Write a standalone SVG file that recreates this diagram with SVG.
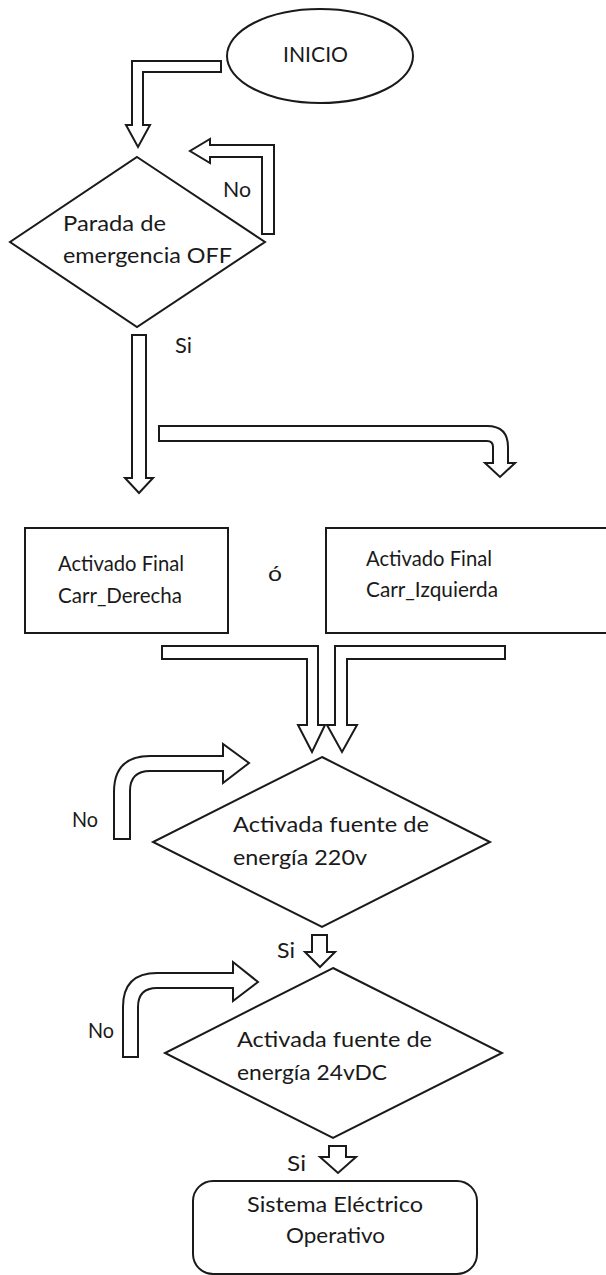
<svg xmlns="http://www.w3.org/2000/svg" width="606" height="1275" viewBox="0 0 606 1275">
  <style>
    .shape { fill: #ffffff; stroke: #1a1a1a; stroke-width: 2; stroke-linejoin: miter; }
    .arrow { fill: #ffffff; stroke: #1a1a1a; stroke-width: 2; stroke-linejoin: miter; }
    .label { font-family: Lato, "Open Sans", "Liberation Sans", sans-serif; font-size: 21px; fill: #1a1a1a; }
  </style>
  <rect width="606" height="1275" fill="#ffffff"/>

  <!-- block arrows -->
  <g id="connectors">
    <path class="arrow" d="M221,61 L132,61 L132,125 L126,125 L138,147 L150,125 L143,125 L143,72 L221,72 Z"/>
    <path class="arrow" d="M262,234 L262,157 L210,157 L210,163 L190,151 L210,139 L210,145 L274,145 L274,234 Z"/>
    <path class="arrow" d="M132,335 L146,335 L146,478 L153,478 L139,493 L125,478 L132,478 Z"/>
    <path class="arrow" d="M159,426 L487,426 Q508,426 508,447 L508,463 L515,463 L500,477 L485,463 L493,463 L493,447 Q493,441 487,441 L159,441 Z"/>
    <path class="arrow" d="M162,646 L318,646 L318,725 L325,725 L312,752 L298,725 L307,725 L307,659 L162,659 Z"/>
    <path class="arrow" d="M505,646 L335,646 L335,725 L327,725 L342,752 L357,725 L347,725 L347,659 L505,659 Z"/>
    <path class="arrow" d="M114,839 L114,792 Q114,756 150,756 L223,756 L223,744 L249,763 L223,783 L223,771 L150,771 Q130,771 130,791 L130,839 Z"/>
    <path class="arrow" d="M312,935 L327,935 L327,952 L335,952 L320,967 L305,952 L312,952 Z"/>
    <path class="arrow" d="M123,1057 L123,1007 Q123,973 157,973 L233,973 L233,962 L258,982 L233,1001 L233,988 L157,988 Q138,988 138,1007 L138,1057 Z"/>
    <path class="arrow" d="M329,1146 L346,1146 L346,1157 L356,1157 L338,1173 L320,1157 L329,1157 Z"/>
    <text class="label" x="223" y="197" textLength="28" lengthAdjust="spacingAndGlyphs">No</text>
    <text class="label" x="175" y="353" textLength="17" lengthAdjust="spacingAndGlyphs">Si</text>
    <text class="label" x="72" y="827" textLength="26" lengthAdjust="spacingAndGlyphs">No</text>
    <text class="label" x="277" y="958" textLength="18" lengthAdjust="spacingAndGlyphs">Si</text>
    <text class="label" x="88" y="1038" textLength="26" lengthAdjust="spacingAndGlyphs">No</text>
    <text class="label" x="287" y="1171" textLength="19" lengthAdjust="spacingAndGlyphs">Si</text>
  </g>

  <g id="inicio">
    <ellipse class="shape" cx="320" cy="56" rx="93" ry="47"/>
    <text class="label" x="283" y="62" textLength="65" lengthAdjust="spacingAndGlyphs">INICIO</text>
  </g>

  <g id="parada-emergencia">
    <polygon class="shape" points="137,157 265,242 137,327 10,242"/>
    <text class="label" x="63" y="231" textLength="103" lengthAdjust="spacingAndGlyphs">Parada de</text>
    <text class="label" x="63" y="263" textLength="169" lengthAdjust="spacingAndGlyphs">emergencia OFF</text>
  </g>

  <g id="final-derecha">
    <rect class="shape" x="25" y="528" width="203" height="105"/>
    <text class="label" x="58" y="571" textLength="126" lengthAdjust="spacingAndGlyphs">Activado Final</text>
    <text class="label" x="58" y="603" textLength="124" lengthAdjust="spacingAndGlyphs">Carr_Derecha</text>
  </g>

  <g id="o-separador">
    <text class="label" x="268" y="581" textLength="14" lengthAdjust="spacingAndGlyphs">ó</text>
  </g>

  <g id="final-izquierda">
    <rect class="shape" x="326" y="528" width="300" height="105"/>
    <text class="label" x="366" y="566" textLength="126" lengthAdjust="spacingAndGlyphs">Activado Final</text>
    <text class="label" x="366" y="597" textLength="132" lengthAdjust="spacingAndGlyphs">Carr_Izquierda</text>
  </g>

  <g id="fuente-220v">
    <polygon class="shape" points="322,757 490,842 322,927 153,842"/>
    <text class="label" x="233" y="832" textLength="196" lengthAdjust="spacingAndGlyphs">Activada fuente de</text>
    <text class="label" x="233" y="865" textLength="134" lengthAdjust="spacingAndGlyphs">energía 220v</text>
  </g>

  <g id="fuente-24vdc">
    <polygon class="shape" points="333,968 502,1053 333,1138 165,1053"/>
    <text class="label" x="237" y="1047" textLength="195" lengthAdjust="spacingAndGlyphs">Activada fuente de</text>
    <text class="label" x="237" y="1080" textLength="150" lengthAdjust="spacingAndGlyphs">energía 24vDC</text>
  </g>

  <g id="sistema-operativo">
    <rect class="shape" x="193" y="1181" width="284" height="93" rx="20" ry="20"/>
    <text class="label" x="247" y="1212" textLength="176" lengthAdjust="spacingAndGlyphs">Sistema Eléctrico</text>
    <text class="label" x="286" y="1243" textLength="99" lengthAdjust="spacingAndGlyphs">Operativo</text>
  </g>
</svg>
